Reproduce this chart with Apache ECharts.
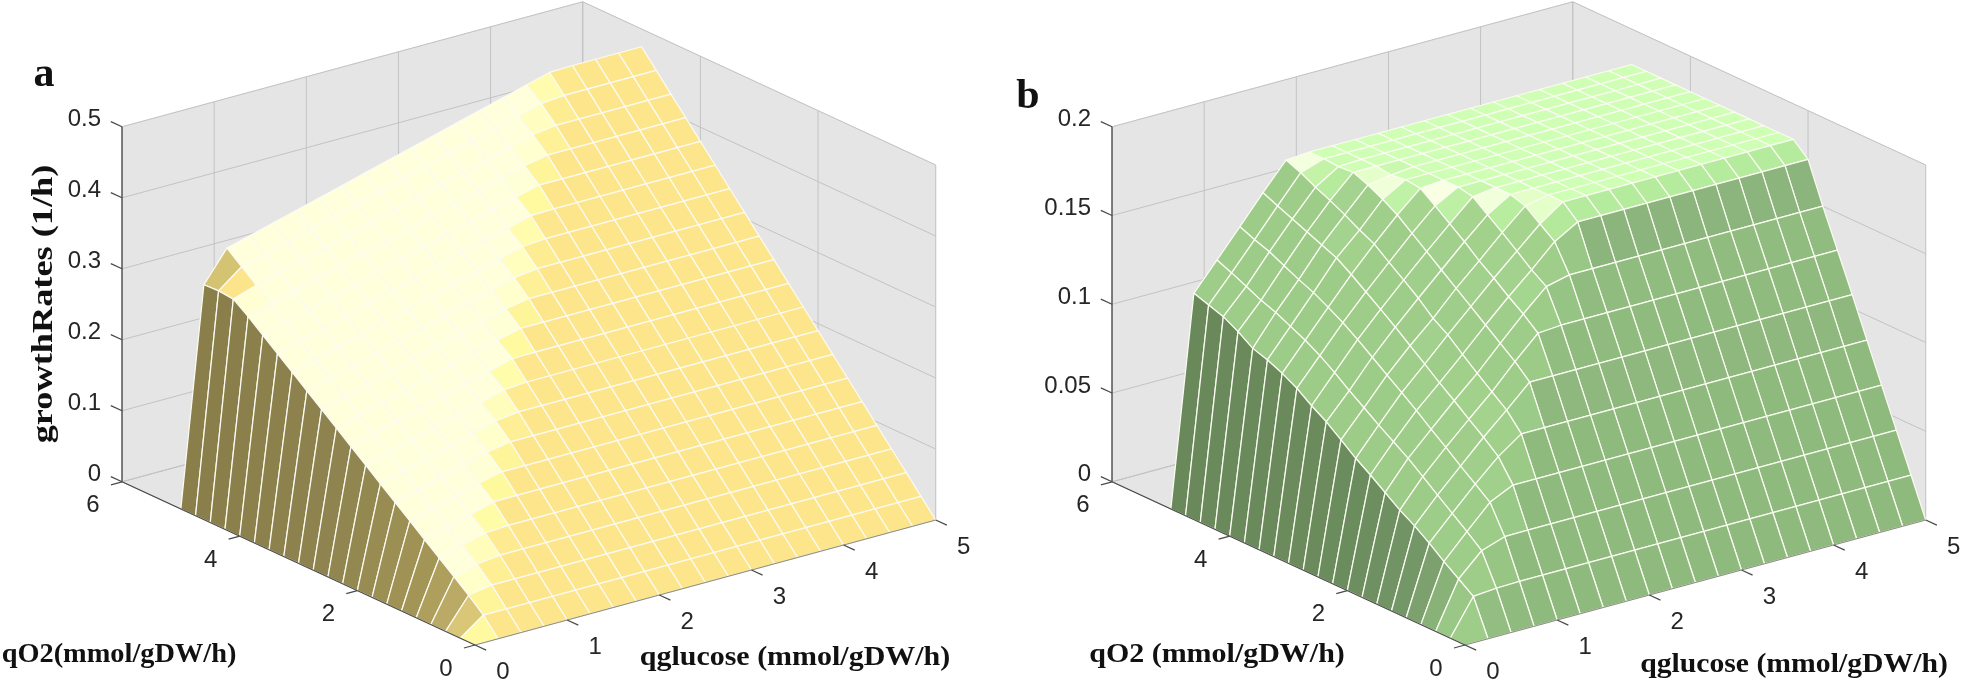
<!DOCTYPE html>
<html><head><meta charset="utf-8">
<style>html,body{margin:0;padding:0;background:#fff}#c{width:1962px;height:684px}</style>
<script src="https://cdn.jsdelivr.net/npm/echarts@6/dist/echarts.min.js"></script>
</head><body><div id="c"></div>
<script>
// ---------- data ----------
const qglucose = [0,.25,.5,.75,1,1.25,1.5,1.75,2,2.25,2.5,2.75,3,3.25,3.5,3.75,4,4.25,4.5,4.75,5];
const qO2 = [0,.25,.5,.75,1,1.25,1.5,1.75,2,2.25,2.5,2.75,3,3.25,3.5,3.75,4,4.25,4.5,4.75,5];
const growthA = [
[0,0,0,0,0,0,0,0,0,0,0,0,0,0,0,0,0,0,0,0,0],
[0,.0238,.0238,.0238,.0238,.0238,.0238,.0238,.0238,.0238,.0238,.0238,.0238,.0238,.0238,.0238,.0238,.0238,.0238,.0238,.0238],
[0,.0421,.0475,.0475,.0475,.0475,.0475,.0475,.0475,.0475,.0475,.0475,.0475,.0475,.0475,.0475,.0475,.0475,.0475,.0475,.0475],
[0,.0587,.0676,.0713,.0713,.0713,.0713,.0713,.0713,.0713,.0713,.0713,.0713,.0713,.0713,.0713,.0713,.0713,.0713,.0713,.0713],
[0,.0753,.0842,.093,.095,.095,.095,.095,.095,.095,.095,.095,.095,.095,.095,.095,.095,.095,.095,.095,.095],
[0,.0919,.1008,.1096,.1185,.1188,.1188,.1188,.1188,.1188,.1188,.1188,.1188,.1188,.1188,.1188,.1188,.1188,.1188,.1188,.1188],
[0,.1085,.1174,.1262,.1351,.1425,.1425,.1425,.1425,.1425,.1425,.1425,.1425,.1425,.1425,.1425,.1425,.1425,.1425,.1425,.1425],
[0,.1251,.134,.1428,.1517,.1606,.1663,.1663,.1663,.1663,.1663,.1663,.1663,.1663,.1663,.1663,.1663,.1663,.1663,.1663,.1663],
[0,.1417,.1506,.1594,.1683,.1772,.1861,.19,.19,.19,.19,.19,.19,.19,.19,.19,.19,.19,.19,.19,.19],
[0,.1583,.1672,.176,.1849,.1938,.2027,.2115,.2138,.2138,.2138,.2138,.2138,.2138,.2138,.2138,.2138,.2138,.2138,.2138,.2138],
[0,.1749,.1838,.1926,.2015,.2104,.2193,.2281,.237,.2375,.2375,.2375,.2375,.2375,.2375,.2375,.2375,.2375,.2375,.2375,.2375],
[0,.1915,.2004,.2092,.2181,.227,.2359,.2447,.2536,.2613,.2613,.2613,.2613,.2613,.2613,.2613,.2613,.2613,.2613,.2613,.2613],
[0,.2081,.217,.2258,.2347,.2436,.2525,.2613,.2702,.2791,.285,.285,.285,.285,.285,.285,.285,.285,.285,.285,.285],
[0,.2247,.2336,.2424,.2513,.2602,.2691,.2779,.2868,.2957,.3046,.3088,.3088,.3088,.3088,.3088,.3088,.3088,.3088,.3088,.3088],
[0,.2413,.2502,.259,.2679,.2768,.2857,.2945,.3034,.3123,.3212,.33,.3325,.3325,.3325,.3325,.3325,.3325,.3325,.3325,.3325],
[0,.2579,.2668,.2756,.2845,.2934,.3023,.3111,.32,.3289,.3378,.3466,.3555,.3563,.3563,.3563,.3563,.3563,.3563,.3563,.3563],
[0,.2745,.2834,.2922,.3011,.31,.3189,.3277,.3366,.3455,.3544,.3632,.3721,.38,.38,.38,.38,.38,.38,.38,.38],
[0,.2911,.3,.3088,.3177,.3266,.3355,.3443,.3532,.3621,.371,.3798,.3887,.3976,.4038,.4038,.4038,.4038,.4038,.4038,.4038],
[0,.306,.3166,.3254,.3343,.3432,.3521,.3609,.3698,.3787,.3876,.3964,.4053,.4142,.4231,.4275,.4275,.4275,.4275,.4275,.4275],
[0,.308,.3332,.342,.3509,.3598,.3687,.3775,.3864,.3953,.4042,.413,.4219,.4308,.4397,.4485,.4513,.4513,.4513,.4513,.4513],
[0,.307,.3498,.3586,.3675,.3764,.3853,.3941,.403,.4119,.4208,.4296,.4385,.4474,.4563,.4651,.474,.475,.475,.475,.475]
];
const growthB = [
[0,0,0,0,0,0,0,0,0,0,0,0,0,0,0,0,0,0,0,0,0],
[0,.02,.0211,.0215,.0215,.0215,.0215,.0215,.0215,.0215,.0215,.0215,.0215,.0215,.0215,.0215,.0215,.0215,.0215,.0215,.0215],
[0,.026,.0384,.0428,.043,.043,.043,.043,.043,.043,.043,.043,.043,.043,.043,.043,.043,.043,.043,.043,.043],
[0,.032,.0453,.0583,.0645,.0645,.0645,.0645,.0645,.0645,.0645,.0645,.0645,.0645,.0645,.0645,.0645,.0645,.0645,.0645,.0645],
[0,.0385,.0518,.0648,.0767,.086,.086,.086,.086,.086,.086,.086,.086,.086,.086,.086,.086,.086,.086,.086,.086],
[0,.0444,.0583,.0711,.0838,.0956,.1078,.1078,.1078,.1078,.1078,.1078,.1078,.1078,.1078,.1078,.1078,.1078,.1078,.1078,.1078],
[0,.0495,.0648,.0778,.0901,.102,.1155,.128,.129,.129,.129,.129,.129,.129,.129,.129,.129,.129,.129,.129,.129],
[0,.0555,.0713,.0841,.0967,.1086,.122,.135,.1469,.15,.15,.15,.15,.15,.15,.15,.15,.15,.15,.15,.15],
[0,.0616,.0768,.0908,.103,.1155,.1285,.1409,.1525,.1649,.1725,.1725,.1725,.1725,.1725,.1725,.1725,.1725,.1725,.1725,.1725],
[0,.0672,.0824,.0971,.1097,.1226,.135,.1475,.1593,.171,.18,.18,.18,.18,.18,.18,.18,.18,.18,.18,.18],
[0,.0737,.0883,.1032,.1162,.1281,.1415,.1535,.1658,.1773,.18,.18,.18,.18,.18,.18,.18,.18,.18,.18,.18],
[0,.0801,.0941,.1094,.1228,.1356,.148,.1604,.172,.18,.18,.18,.18,.18,.18,.18,.18,.18,.18,.18,.18],
[0,.0853,.1004,.1155,.129,.142,.1545,.1666,.1784,.18,.18,.18,.18,.18,.18,.18,.18,.18,.18,.18,.18],
[0,.0913,.1062,.1212,.135,.1482,.161,.1729,.18,.18,.18,.18,.18,.18,.18,.18,.18,.18,.18,.18,.18],
[0,.0959,.111,.126,.141,.1546,.1675,.179,.18,.18,.18,.18,.18,.18,.18,.18,.18,.18,.18,.18,.18],
[0,.0996,.115,.1305,.1465,.1587,.1725,.18,.18,.18,.18,.18,.18,.18,.18,.18,.18,.18,.18,.18,.18],
[0,.1023,.119,.134,.15,.1634,.1767,.1788,.18,.18,.18,.18,.18,.18,.18,.18,.18,.18,.18,.18,.18],
[0,.1079,.122,.138,.1535,.1676,.18,.18,.18,.18,.18,.18,.18,.18,.18,.18,.18,.18,.18,.18,.18],
[0,.1125,.126,.142,.157,.1713,.1794,.18,.18,.18,.18,.18,.18,.18,.18,.18,.18,.18,.18,.18,.18],
[0,.1152,.1298,.145,.1605,.1757,.18,.18,.18,.18,.18,.18,.18,.18,.18,.18,.18,.18,.18,.18,.18],
[0,.118,.1332,.1485,.1641,.179,.18,.18,.18,.18,.18,.18,.18,.18,.18,.18,.18,.18,.18,.18,.18]
];
const glucoseTicks = [0,1,2,3,4,5];
const o2Ticks = [0,2,4,6];
const growthTicksA = ['0','0.1','0.2','0.3','0.4','0.5'];
const growthTicksB = ['0','0.05','0.1','0.15','0.2'];

// ---------- view ----------
const G_MAX = 5, O_MAX = 6;
const VIEW = {x0:475, y0:645, gx:92.14, gy:-25, ox:-58.83, oy:-27.2, zh:355};
const SANS = '"Liberation Sans", Arial, sans-serif', SERIF = '"Liberation Serif", "Times New Roman", serif';
const PANELS = [
 {z:growthA, zMax:.5, zTicks:growthTicksA, peak:[.355,.797],
  palette:[[0,'#FFFFDC'],[.1,'#FFFFCC'],[.24,'#FFFBA0'],[.49,'#FDE58C'],[1.1,'#D4C274'],[1.65,'#BCAB66'],[2.3,'#AFA05D'],[3,'#A39555'],[6.6,'#8F8450'],[12,'#8A7F4B']],
  texts:[
   {t:'a',x:44,y:75,s:42,bold:1},
   {t:'growthRates (1/h)',x:44,y:304,s:30,sx:1.21,bold:1,rot:Math.PI/2},
   {t:'qO2(mmol/gDW/h)',x:119,y:655,s:27,sx:1.05,bold:1},
   {t:'qglucose (mmol/gDW/h)',x:795,y:658,s:27,sx:1.11,bold:1}]},
 {z:growthB, zMax:.2, zTicks:growthTicksB, peak:[.35,.3],
  palette:[[0,'#FFFFEE'],[.18,'#F0FFD8'],[.255,'#E4FFC8'],[.27,'#C4F3A8'],[.4,'#CAFBB0'],[.46,'#CEFFB4'],[.6,'#BFF2A6'],[.69,'#B5EB9D'],[.85,'#A8DA92'],[1.05,'#9ECC89'],[1.9,'#9ACA87'],[2.4,'#8CB67C'],[3.5,'#759868'],[6,'#6B8C5D'],[12,'#6A895B']],
  texts:[
   {t:'b',x:38,y:97,s:42,bold:1},
   {t:'qO2 (mmol/gDW/h)',x:227,y:655,s:27,sx:1.11,bold:1},
   {t:'qglucose (mmol/gDW/h)',x:804,y:665,s:27,sx:1.1,bold:1}]}
];
const hex2 = c => [1,3,5].map(i=>parseInt(c.substr(i,2),16));
function ramp(pal,s){
  if(s<=pal[0][0]) return pal[0][1];
  for(let i=1;i<pal.length;i++){
    if(s<=pal[i][0]){
      const a=hex2(pal[i-1][1]),b=hex2(pal[i][1]),t=(s-pal[i-1][0])/(pal[i][0]-pal[i-1][0]);
      return 'rgb('+a.map((v,k)=>Math.round(v+(b[k]-v)*t)).join(',')+')';
    }
  }
  return pal[pal.length-1][1];
}
function panelSeries(p,idx){
  const zTickVals = p.zTicks.map(Number);
  const proj = (g,o,z)=>[VIEW.x0+VIEW.gx*g+VIEW.ox*o, VIEW.y0+VIEW.gy*g+VIEW.oy*o-VIEW.zh*z/p.zMax];
  const base = {type:'custom',coordinateSystem:'cartesian2d',xAxisIndex:idx,yAxisIndex:idx,clip:false,silent:true,animation:false};
  const layer = (items,build)=>Object.assign({},base,{
    data:items.map((_,i)=>[i,0]),
    renderItem:(params,api)=>build(items[params.dataIndex],api)
  });
  const polyline=(line,api)=>({type:'polyline',shape:{points:line.pts.map(q=>api.coord(q))},
     style:{stroke:line.c,lineWidth:line.w,fill:null}});
  // walls
  const walls=[
    [[0,O_MAX,0],[G_MAX,O_MAX,0],[G_MAX,O_MAX,p.zMax],[0,O_MAX,p.zMax]],
    [[G_MAX,O_MAX,0],[G_MAX,0,0],[G_MAX,0,p.zMax],[G_MAX,O_MAX,p.zMax]],
    [[0,0,0],[G_MAX,0,0],[G_MAX,O_MAX,0],[0,O_MAX,0]]
  ].map(w=>w.map(q=>proj(...q)));
  const wallSeries=layer(walls,(w,api)=>({type:'polygon',shape:{points:w.map(q=>api.coord(q))},style:{fill:'#E5E5E5',stroke:'#E5E5E5',lineWidth:1}}));
  // grid lines
  const GC='#C3C3C3', gridLines=[];
  const seg=(a,b,c,w)=>({pts:[proj(...a),proj(...b)],c:c,w:w});
  glucoseTicks.forEach(g=>{
    gridLines.push(seg([g,O_MAX,0],[g,O_MAX,p.zMax],GC,1));
    gridLines.push(seg([g,0,0],[g,O_MAX,0],GC,1));
  });
  o2Ticks.forEach(o=>{
    gridLines.push(seg([G_MAX,o,0],[G_MAX,o,p.zMax],GC,1));
    gridLines.push(seg([0,o,0],[G_MAX,o,0],GC,1));
  });
  zTickVals.forEach(z=>{
    gridLines.push(seg([0,O_MAX,z],[G_MAX,O_MAX,z],GC,1));
    gridLines.push(seg([G_MAX,O_MAX,z],[G_MAX,0,z],GC,1));
  });
  const gridSeries=layer(gridLines,polyline);
  // surface, back to front
  const cells=[];
  for(let i=qO2.length-2;i>=0;i--) for(let j=qglucose.length-2;j>=0;j--) cells.push([j,i]);
  const surface=layer(cells,(c,api)=>{
    const j=c[0],i=c[1],Z=p.z;
    const a=Z[i][j],b=Z[i][j+1],d=Z[i+1][j+1],e=Z[i+1][j];
    const dg=qglucose[j+1]-qglucose[j],dO=qO2[i+1]-qO2[i];
    const sg=((b-a)+(d-e))/2/dg*G_MAX/p.zMax, so=((e-a)+(d-b))/2/dO*O_MAX/p.zMax;
    const s=Math.hypot(sg-p.peak[0],so-p.peak[1]);
    const pts=[[qglucose[j],qO2[i],a],[qglucose[j+1],qO2[i],b],[qglucose[j+1],qO2[i+1],d],[qglucose[j],qO2[i+1],e]]
      .map(q=>api.coord(proj(...q)));
    return {type:'polygon',shape:{points:pts},style:{fill:ramp(p.palette,s),stroke:'#FBFBF2',lineWidth:1.25,lineJoin:'round'}};
  });
  // axes and ticks
  const axisLines=[
    seg([0,O_MAX,0],[0,O_MAX,p.zMax],'#4A4A4A',1.3),
    seg([0,0,0],[0,O_MAX,0],'#4A4A4A',1.2),
    seg([0,0,0],[G_MAX,0,0],'#8A8A80',1)
  ];
  zTickVals.forEach(z=>axisLines.push(seg([0,O_MAX,z],[0,O_MAX+.19,z],'#4A4A4A',1.2)));
  o2Ticks.forEach(o=>axisLines.push(seg([0,o,0],[-.12,o,0],'#4A4A4A',1.2)));
  glucoseTicks.forEach(g=>axisLines.push(seg([g,0,0],[g,-.19,0],'#4A4A4A',1.2)));
  const axisSeries=layer(axisLines,polyline);
  // labels
  const labels=[];
  p.zTicks.forEach((t,k)=>{const q=proj(0,O_MAX,zTickVals[k]);labels.push({t:t,x:q[0]-21,y:q[1]-7,s:24,align:'right'});});
  o2Ticks.forEach(o=>{const q=proj(0,o,0);labels.push({t:String(o),x:q[0]-29,y:q[1]+24,s:24});});
  glucoseTicks.forEach(g=>{const q=proj(g,0,0);labels.push({t:String(g),x:q[0]+28,y:q[1]+27,s:24});});
  p.texts.forEach(t=>labels.push(t));
  const labelSeries=layer(labels,(l,api)=>{
    const q=api.coord([l.x,l.y]);
    return {type:'text',x:q[0],y:q[1],rotation:l.rot||0,scaleX:l.sx||1,scaleY:1,style:{
      text:l.t,x:0,y:0,fill:l.bold?'#111':'#262626',
      fontFamily:l.bold?SERIF:SANS,fontWeight:l.bold?'bold':'normal',fontSize:l.s,
      align:l.align||'center',verticalAlign:'middle'}};
  });
  return [wallSeries,gridSeries,surface,axisSeries,labelSeries];
}
const GRID_W=[981,972];
const chart=echarts.init(document.getElementById('c'),null,{renderer:'canvas'});
chart.setOption({
  animation:false,backgroundColor:'#fff',
  grid:[{left:0,top:0,width:GRID_W[0],height:684},{left:990,top:0,width:GRID_W[1],height:684}],
  xAxis:GRID_W.map((w,i)=>({type:'value',gridIndex:i,min:0,max:w,show:false})),
  yAxis:GRID_W.map((w,i)=>({type:'value',gridIndex:i,min:0,max:684,inverse:true,show:false})),
  series:PANELS.flatMap(panelSeries)
});
</script></body></html>
